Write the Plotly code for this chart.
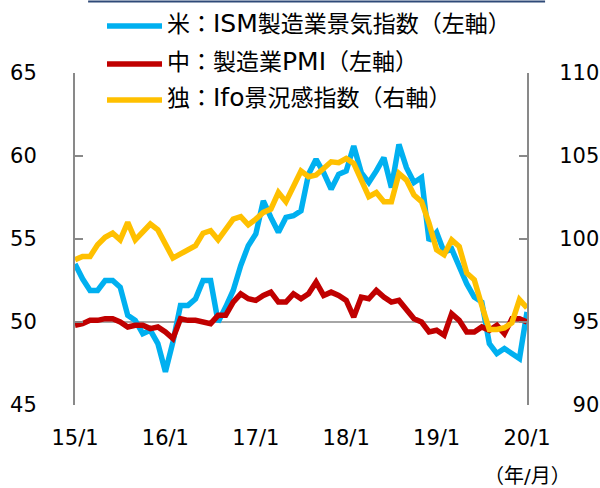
import plotly.graph_objects as go

# month index 0 = 2015/1 ... 60 = 2020/1
months = list(range(61))
tick_vals = [0, 12, 24, 36, 48, 60]
tick_text = ["15/1", "16/1", "17/1", "18/1", "19/1", "20/1"]

us_ism = [53.5, 52.6, 51.9, 51.9, 52.5, 52.5, 52.1, 50.4, 50.1, 49.3, 49.5, 48.7,
          47.0, 48.8, 51.0, 51.0, 51.4, 52.5, 52.5, 50.0, 50.9, 51.9, 53.4, 54.6,
          55.3, 57.3, 56.3, 55.4, 56.3, 56.4, 56.7, 58.9, 59.8, 59.0, 58.0, 58.9,
          59.1, 60.6, 59.0, 58.4, 59.1, 59.9, 58.1, 60.7, 59.3, 58.4, 58.7, 54.9,
          55.4, 54.2, 54.4, 53.3, 52.3, 51.5, 51.2, 48.7, 48.1, 48.4, 48.1, 47.8,
          50.6]

cn_pmi = [49.8, 49.9, 50.1, 50.1, 50.2, 50.2, 50.0, 49.7, 49.8, 49.8, 49.6, 49.7,
          49.4, 49.0, 50.2, 50.1, 50.1, 50.0, 49.9, 50.4, 50.4, 51.2, 51.7, 51.4,
          51.3, 51.6, 51.8, 51.2, 51.2, 51.7, 51.4, 51.7, 52.4, 51.6, 51.8, 51.6,
          51.3, 50.3, 51.5, 51.4, 51.9, 51.5, 51.2, 51.3, 50.8, 50.2, 50.0, 49.4,
          49.5, 49.2, 50.5, 50.1, 49.4, 49.4, 49.7, 49.5, 49.8, 49.3, 50.2, 50.2,
          50.0]

de_ifo = [98.75, 98.95, 98.95, 99.65, 100.1, 100.35, 99.95, 101.0, 99.95, 100.45, 100.9, 100.55,
          99.75, 98.85, 99.1, 99.35, 99.6, 100.35, 100.5, 99.95, 100.65, 101.2, 101.35, 100.85,
          101.2, 101.6, 101.8, 102.8, 102.25, 103.25, 104.1, 103.75, 103.85, 104.25, 104.65, 104.6,
          104.85, 104.55, 103.55, 102.55, 102.8, 102.25, 102.25, 103.95, 103.55, 102.65, 102.25, 100.95,
          99.35, 99.05, 99.95, 99.55, 97.95, 97.55, 96.0, 94.55, 94.55, 94.65, 94.95, 96.35,
          95.85]

names = ["米：ISM製造業景気指数（左軸）", "中：製造業PMI（左軸）", "独：Ifo景況感指数（右軸）"]
legend_html = ["米：<span style='font-size:25px'>ISM</span>製造業景気指数（左軸）",
               "中：製造業<span style='font-size:25px'>PMI</span>（左軸）",
               "独：<span style='font-size:25px'>Ifo</span>景況感指数（右軸）"]
colors = ["#00B0F0", "#C00000", "#FFC000"]

left_ticks = [45, 50, 55, 60, 65]
right_ticks = [90, 95, 100, 105, 110]
right_text = ["\u200790", "\u200795", "100", "105", "110"]

FONT = "DejaVu Sans, Noto Sans CJK JP, sans-serif"
AX = "#898989"
LW = 5.5

fig = go.Figure()
fig.add_trace(go.Scatter(x=months, y=us_ism, mode="lines", name=names[0],
                         line=dict(color=colors[0], width=LW), showlegend=False))
fig.add_trace(go.Scatter(x=months, y=cn_pmi, mode="lines", name=names[1],
                         line=dict(color=colors[1], width=LW), showlegend=False))
fig.add_trace(go.Scatter(x=months, y=de_ifo, mode="lines", name=names[2], yaxis="y2",
                         line=dict(color=colors[2], width=LW), showlegend=False))

# reference line at 50
fig.add_shape(type="line", xref="x", yref="y", x0=months[0], x1=months[-1], y0=50, y1=50,
              line=dict(color="#A6A6A6", width=2), layer="below")

# top frame line
fig.add_shape(type="line", xref="paper", yref="paper", x0=0.029, x1=1.04, y0=1.215, y1=1.215,
              line=dict(color="#2F4A78", width=2))

# manual legend
leg_y_line = [1.1416, 1.0271, 0.9187]
leg_y_text = [1.1476, 1.0361, 0.9247]
for i in range(3):
    fig.add_shape(type="line", xref="paper", yref="paper", x0=0.0708, x1=0.1925,
                  y0=leg_y_line[i], y1=leg_y_line[i], line=dict(color=colors[i], width=LW))
    fig.add_annotation(xref="paper", yref="paper", x=0.1991, y=leg_y_text[i], text=legend_html[i],
                       showarrow=False, xanchor="left", yanchor="middle",
                       font=dict(family=FONT, size=23, color="#000000"))

fig.add_annotation(xref="paper", yref="paper", x=1.0, y=-0.214, text="（年/月）",
                   showarrow=False, xanchor="center", yanchor="middle",
                   font=dict(family=FONT, size=20, color="#000000"))

fig.update_layout(
    width=600, height=488, autosize=False,
    margin=dict(l=75, r=73, t=73, b=83, autoexpand=False),
    plot_bgcolor="white", paper_bgcolor="white",
    font=dict(family=FONT, size=21, color="#000000"),
    xaxis=dict(range=[0, 60], tickvals=tick_vals, ticktext=tick_text, showline=False,
               showgrid=False, zeroline=False, ticks="", ticklabelstandoff=18, automargin=False),
    yaxis=dict(range=[45, 65], tickvals=left_ticks, showline=True, linecolor=AX, linewidth=2,
               ticks="inside", ticklen=8, tickwidth=2, tickcolor=AX, showgrid=False,
               zeroline=False, ticklabelstandoff=32, automargin=False),
    yaxis2=dict(range=[90, 110], tickvals=right_ticks, ticktext=right_text, overlaying="y",
                side="right", showline=True, linecolor=AX, linewidth=2, ticks="inside",
                ticklen=8, tickwidth=2, tickcolor=AX, showgrid=False, zeroline=False,
                ticklabelstandoff=26, automargin=False),
)

fig.write_html("out.html", config={"displayModeBar": False},
               post_script="document.body.style.margin='0';document.body.style.overflow='hidden';")
